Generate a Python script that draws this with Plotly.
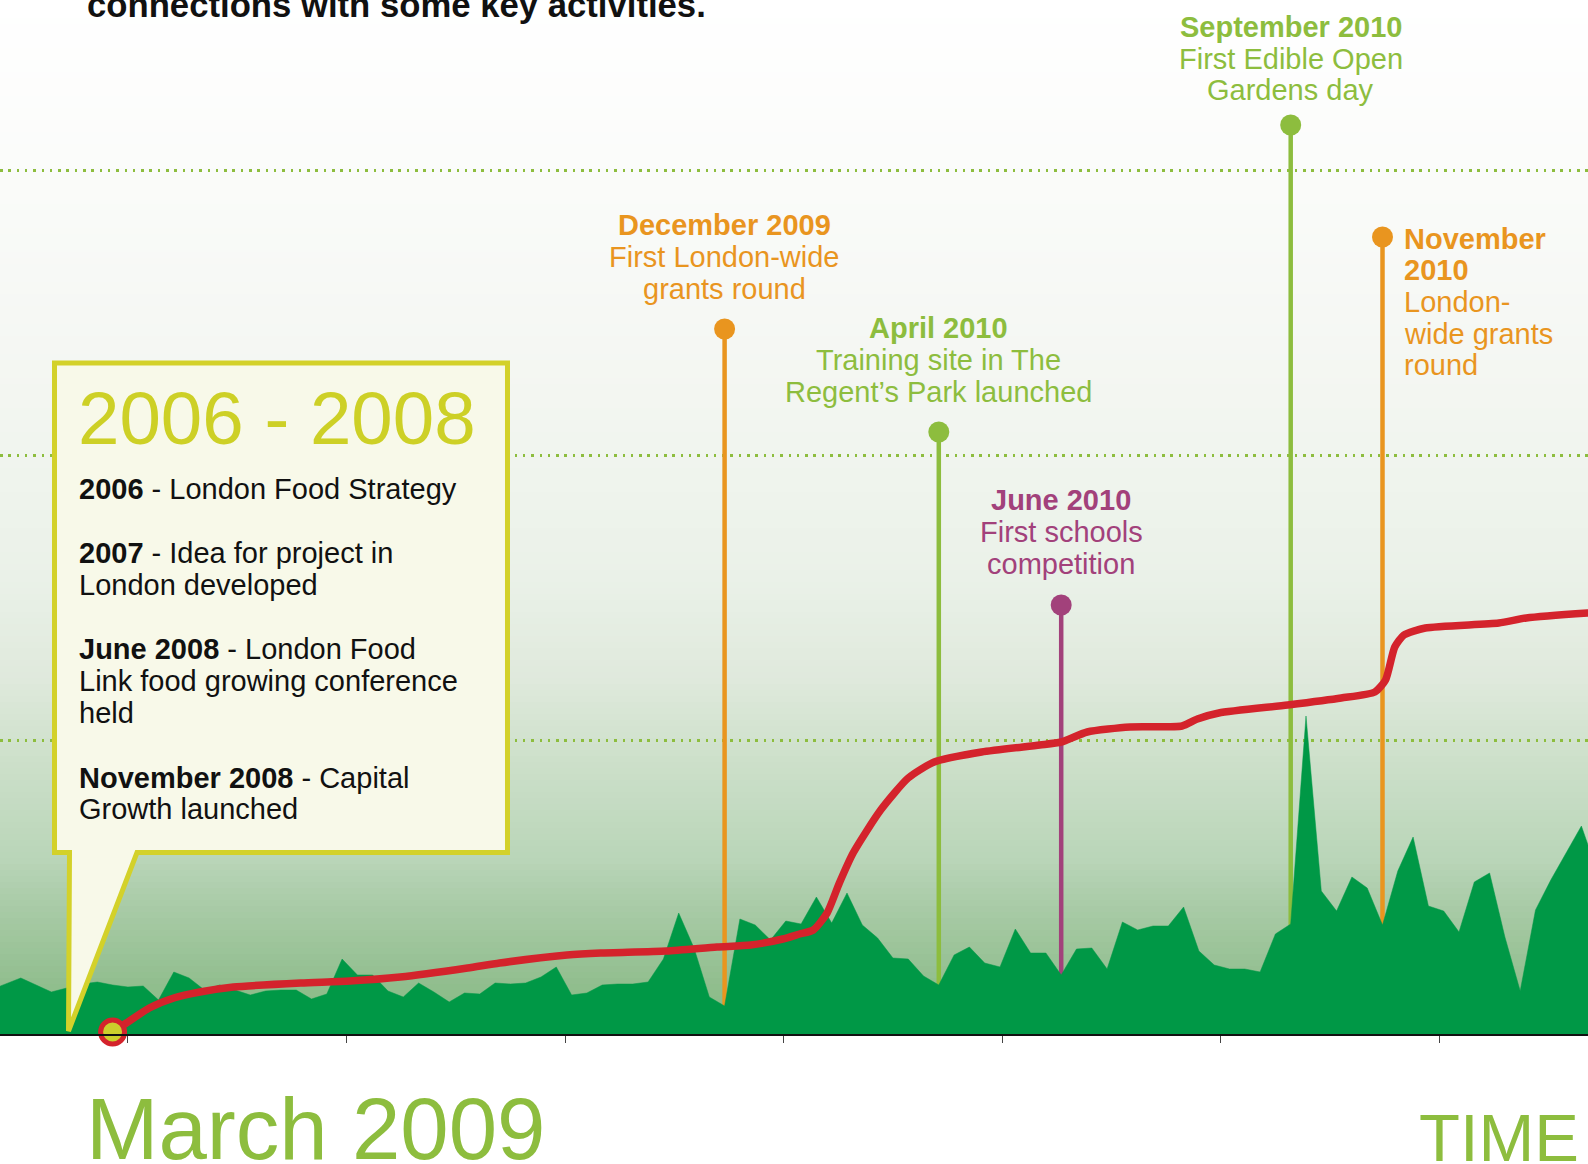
import plotly.graph_objects as go

# ---------------- data ----------------
weeks = list(range(-1, 105))
activity = [44, 50, 56, 49, 42, 46, 50, 52, 49, 47, 48, 34, 62, 56, 44, 49, 44, 39, 43, 44,
            44, 35, 40, 75, 59, 59, 43, 37, 51, 42, 32, 41, 40, 51, 50, 51, 57, 67, 39, 41,
            49, 50, 50, 52, 75, 121, 86, 37, 28, 115, 109, 94, 113, 110, 137, 111, 141, 109, 96, 76,
            75, 58, 49, 79, 87, 71, 67, 105, 81, 81, 59, 85, 86, 65, 112, 104, 108, 108, 127, 83,
            69, 65, 65, 62, 100, 110, 318, 143, 123, 157, 146, 109, 163, 197, 128, 123, 102, 152, 161, 97,
            43, 124, 154, 181, 208, 164]

growth_weeks = [7.0, 7.9, 9.4, 11.0, 12.7, 14.9, 19.3, 22.5, 25.8, 30.2, 32.3, 36.7, 38.9, 43.2,
                46.5, 48.7, 50.8, 51.9, 52.8, 53.7, 54.5, 55.4, 57.2, 59.0, 60.7, 63.8, 67.6, 69.0,
                70.7, 73.5, 76.9, 77.9, 79.3, 83.8, 87.3, 89.5, 90.2, 90.8, 91.4, 92.8, 97.6, 99.4,
                103.4, 104.5]
growth = [2, 11, 26, 36, 42, 47, 51, 53, 57, 66, 71, 79, 81, 83,
          87, 89, 95, 100, 104, 121, 151, 181, 224, 256, 272, 282, 289, 292,
          302, 307, 308, 315, 321, 329, 336, 342, 354, 387, 399, 406, 411, 416,
          421, 422]

event_weeks = [47, 61, 69, 84, 90]
event_heights = [705, 602, 429, 909, 797]
event_titles = ["December 2009", "April 2010", "June 2010", "September 2010", "November 2010"]
event_lines = [["First London-wide", "grants round"],
               ["Training site in The", "Regent\u2019s Park launched"],
               ["First schools", "competition"],
               ["First Edible Open", "Gardens day"],
               ["London-", "wide grants", "round"]]
event_colors = ["#e9951f", "#8dbd3e", "#a2417b", "#8dbd3e", "#e9951f"]

box_title = "2006 - 2008"
box_items = [["<b>2006</b> - London Food Strategy"],
             ["<b>2007</b> - Idea for project in", "London developed"],
             ["<b>June 2008</b> - London Food", "Link food growing conference", "held"],
             ["<b>November 2008</b> - Capital", "Growth launched"]]

# ---------------- styling ----------------
W, H = 1588, 1164
BASE = 1034          # pixel row of the time axis
FONT = "Liberation Sans, Arial, Helvetica, sans-serif"
GREEN = "#8dbd3e"
AREA = "#009846"
RED = "#d4232c"
BOXLINE = "#d3d12a"
BOXFILL = "#f8f9e9"

def X(px):
    return (px - 5.5) / 15.3

def Y(py):
    return BASE - py

def PY(py):
    return (BASE - py) / BASE

fig = go.Figure()

# event stems (behind the area)
for w, h, c in zip(event_weeks, event_heights, event_colors):
    fig.add_trace(go.Scatter(x=[w, w], y=[0, h], mode="lines",
                             line=dict(color=c, width=4.5), hoverinfo="skip"))

# activity area
fig.add_trace(go.Scatter(x=weeks, y=activity, mode="lines", fill="tozeroy",
                         fillcolor=AREA, line=dict(color=AREA, width=0.5), hoverinfo="skip"))

# event dots
fig.add_trace(go.Scatter(x=event_weeks, y=event_heights, mode="markers",
                         marker=dict(color=event_colors, size=21, line=dict(width=0)),
                         hoverinfo="skip", cliponaxis=False))

# cumulative growth line
fig.add_trace(go.Scatter(x=growth_weeks, y=growth, mode="lines",
                         line=dict(color=RED, width=7.5, shape="spline", smoothing=0.6),
                         hoverinfo="skip"))
# start marker
fig.add_trace(go.Scatter(x=[growth_weeks[0]], y=[growth[0]], mode="markers",
                         marker=dict(color="#cccf2c", size=24, line=dict(color=RED, width=5)),
                         hoverinfo="skip", cliponaxis=False))

# ---------- background gradient ----------
stops = [(0, (255, 255, 255)), (190, (250, 251, 249)), (400, (243, 246, 241)),
         (580, (234, 241, 232)), (680, (223, 233, 220)), (760, (205, 224, 202)),
         (860, (185, 213, 184)), (900, (171, 204, 169)), (990, (143, 189, 140)),
         (1034, (132, 182, 130))]

def grad(py):
    for (a, ca), (b, cb) in zip(stops[:-1], stops[1:]):
        if a <= py <= b:
            t = (py - a) / (b - a)
            return "rgb(%d,%d,%d)" % tuple(round(ca[i] + (cb[i] - ca[i]) * t) for i in range(3))
    return "rgb(%d,%d,%d)" % stops[-1][1]

shapes = []
step = 6
for py in range(0, BASE, step):
    shapes.append(dict(type="rect", xref="paper", yref="y", x0=0, x1=1,
                       y0=Y(min(py + step + 1, BASE)), y1=Y(py), fillcolor=grad(py + step / 2),
                       line=dict(width=0), layer="below"))

# ---------- callout box ----------
pts = [(54.5, 363), (507.5, 363), (507.5, 852.5), (137, 852.5), (68.5, 1031),
       (69.5, 852.5), (54.5, 852.5)]
path = "M " + " L ".join("%.3f,%.3f" % (X(a), Y(b)) for a, b in pts) + " Z"
shapes.append(dict(type="path", path=path, xref="x", yref="y", fillcolor=BOXFILL,
                   line=dict(color=BOXLINE, width=5), layer="above"))

# ---------- annotations ----------
ann = []

def label(x, y, text, size, color, xanchor="center", yshift=0, xshift=0, yref="y"):
    ann.append(dict(x=x, y=y, xref="x", yref=yref, text=text, showarrow=False,
                    font=dict(family=FONT, size=size, color=color),
                    xanchor=xanchor, yanchor="middle", yshift=yshift, xshift=xshift))

# event labels (centered above dots)
offsets = [[104, 72, 40], [104, 72, 40], [105, 73, 41], [98, 66.5, 35]]
for i in range(4):
    w, h, c = event_weeks[i], event_heights[i], event_colors[i]
    label(w, h, "<b>%s</b>" % event_titles[i], 29, c, yshift=offsets[i][0])
    for j, line in enumerate(event_lines[i]):
        label(w, h, line, 29, c, yshift=offsets[i][j + 1])

# November label (left aligned beside the dot)
w, h, c = event_weeks[4], event_heights[4], event_colors[4]
nov_parts = ["<b>November</b>", "<b>2010</b>"] + event_lines[4]
for j, line in enumerate(nov_parts):
    label(w, h, line, 29, c, xanchor="left", xshift=19, yshift=-1.5 - 31.7 * j)

# box text
label(X(76), Y(418), box_title, 74.5, "#cdd026", xanchor="left")
ys = [[489], [553, 584.5], [649, 681, 712.5], [777.7, 808.5]]
for item, yy in zip(box_items, ys):
    for line, py in zip(item, yy):
        label(X(77), Y(py), line, 29, "#111111", xanchor="left")

# top text, bottom labels
label(X(85), PY(5), "<b>connections with some key activities.</b>", 34.7, "#111111",
      xanchor="left", yref="paper")
label(X(84), PY(1128), "March 2009", 87, GREEN, xanchor="left", yref="paper")
label(X(1417), PY(1137), "TIME", 67, GREEN, xanchor="left", yref="paper")

fig.update_layout(
    width=W, height=H,
    margin=dict(l=0, r=0, t=0, b=H - BASE, pad=0),
    paper_bgcolor="white", plot_bgcolor="white",
    showlegend=False,
    shapes=shapes, annotations=ann,
    xaxis=dict(range=[X(0), X(W)], showgrid=False, zeroline=False,
               showline=True, linecolor="#111111", linewidth=2,
               ticks="outside", ticklen=7, tickwidth=1.2, tickcolor="#444444",
               tick0=8, dtick=100 / 7, showticklabels=False, fixedrange=True),
    yaxis=dict(range=[0, BASE], showgrid=True, gridcolor=GREEN, gridwidth=2.5,
               griddash="2.5px,5.8px", tick0=8.3, dtick=285, zeroline=False,
               showticklabels=False, showline=False, ticks="", fixedrange=True),
)

fig.write_html("out.html", config={"displayModeBar": False},
               post_script="document.body.style.margin='0px';document.body.style.overflow='hidden';")
